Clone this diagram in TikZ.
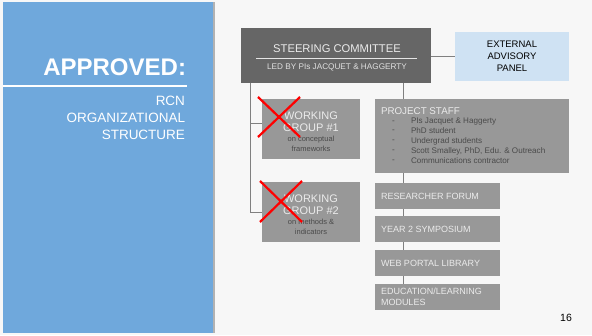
\documentclass[tikz,border=0pt]{standalone}
\usepackage{fontspec}
\setmainfont{Liberation Sans}
\definecolor{slideblue}{HTML}{6FA8DC}
\definecolor{steergray}{HTML}{666666}
\definecolor{boxgray}{HTML}{989898}
\definecolor{panelblue}{HTML}{CFE2F3}
\definecolor{linegray}{HTML}{808080}
\definecolor{subgray}{HTML}{4A4A4A}
\begin{document}
\begin{tikzpicture}[x=1pt,y=-1pt]
\tikzstyle{every node}=[inner sep=0pt,outer sep=0pt]
\tikzstyle{graybox}=[fill=boxgray,anchor=north west]
\tikzstyle{conn}=[draw=linegray,line width=1pt]
\tikzstyle{boxtext}=[anchor=west,text=white!92!black,font=\fontsize{9}{10.5}\selectfont]
\tikzstyle{cross}=[red,line width=2.2pt]
\useasboundingbox (0,0) rectangle (592,335);
\fill[white!97!black] (0,0) rectangle (592,335);
% title panel
\fill[slideblue] (3,2) rectangle (213,333);
\fill[black!30] (213,2) rectangle (215,333);
\node[anchor=base east,text=white,font=\fontsize{24}{26}\bfseries] (title) at (186,75) {APPROVED:};
\draw[white,line width=1.2pt] (3,86) -- (187,86);
\node[anchor=north east,align=right,text=white,font=\fontsize{13.5}{17}\selectfont] (subtitle) at (185,96) {RCN\\ORGANIZATIONAL\\STRUCTURE};
% steering committee and panel
\node[fill=steergray,anchor=north west,minimum width=190pt,minimum height=55pt] (steer) at (241,28) {};
\node[text=white!92!black,font=\fontsize{11.2}{12}\selectfont] (steertitle) at (337,49) {STEERING COMMITTEE};
\draw[white!90!black,line width=0.8pt] (256,58) -- (417,58);
\node[text=white!88!black,font=\fontsize{8.2}{9}\selectfont] (steerled) at (337,67) {LED BY PIs JACQUET \& HAGGERTY};
\node[fill=panelblue,anchor=north west,minimum width=114pt,minimum height=49pt,align=center,font=\fontsize{9.5}{12}\selectfont] (panel) at (455,32) {EXTERNAL\\ADVISORY\\PANEL};
\draw[conn] (steer.east |- panel.west) -- (panel.west);
% working groups
\node[graybox,minimum width=98pt,minimum height=60pt] (wg1) at (262,99) {};
\node[graybox,minimum width=98pt,minimum height=60pt] (wg2) at (262,182) {};
\node[align=center,text=white!92!black,font=\fontsize{11}{12}\selectfont] (wg1title) at (311,122) {WORKING\\GROUP \#1};
\node[align=center,text=subgray,font=\fontsize{7.5}{10}\selectfont] (wg1sub) at (311,144) {on conceptual\\frameworks};
\node[align=center,text=white!92!black,font=\fontsize{11}{12}\selectfont] (wg2title) at (311,205) {WORKING\\GROUP \#2};
\node[align=center,text=subgray,font=\fontsize{7.5}{10}\selectfont] (wg2sub) at (311,227) {on methods \&\\indicators};
\coordinate (trunk) at (250,83);
\draw[conn] (trunk) |- ([yshift=6pt]wg1.west);
\draw[conn] (trunk) |- (wg2.west);
\draw[cross] (258,97) -- (300,137) (300,97) -- (258,137);
\draw[cross] (260,181) -- (302,222) (302,181) -- (260,222);
% project staff column
\node[graybox,minimum width=194pt,minimum height=74pt] (staff) at (375,99) {};
\node[boxtext,font=\fontsize{9.8}{11}\selectfont] (stafftitle) at (381,111) {PROJECT STAFF};
\foreach \y/\t in {122/PIs Jacquet \& Haggerty,131/PhD student,141/Undergrad students,151/{Scott Smalley, PhD, Edu. \& Outreach},161/Communications contractor}{
  \node[anchor=west,text=subgray,font=\fontsize{8.1}{9}\selectfont] at (392,\y) {-};
  \node[anchor=west,text=subgray,font=\fontsize{8.1}{9}\selectfont] at (411,\y) {\t};
}
\node[graybox,minimum width=125pt,minimum height=26pt] (forum) at (375,183) {};
\node[graybox,minimum width=125pt,minimum height=26pt] (symp) at (375,216) {};
\node[graybox,minimum width=125pt,minimum height=26pt] (portal) at (375,250) {};
\node[graybox,minimum width=125pt,minimum height=26pt] (edu) at (375,284) {};
\node[boxtext] (forumtext) at (381,196) {RESEARCHER FORUM};
\node[boxtext] (symptext) at (381,229) {YEAR 2 SYMPOSIUM};
\node[boxtext] (portaltext) at (381,263) {WEB PORTAL LIBRARY};
\node[boxtext,align=left] (edutext) at (381,297) {EDUCATION/LEARNING\\MODULES};
\coordinate (spine) at (403,83);
\draw[conn] (spine) -- (spine |- staff.north);
\draw[conn] (spine |- staff.south) -- (spine |- forum.north);
\draw[conn] (spine |- forum.south) -- (spine |- symp.north);
\draw[conn] (spine |- symp.south) -- (spine |- portal.north);
\draw[conn] (spine |- portal.south) -- (spine |- edu.north);
\node[font=\fontsize{10.5}{12}\selectfont] (pagenum) at (566,318) {16};
\end{tikzpicture}
\end{document}
